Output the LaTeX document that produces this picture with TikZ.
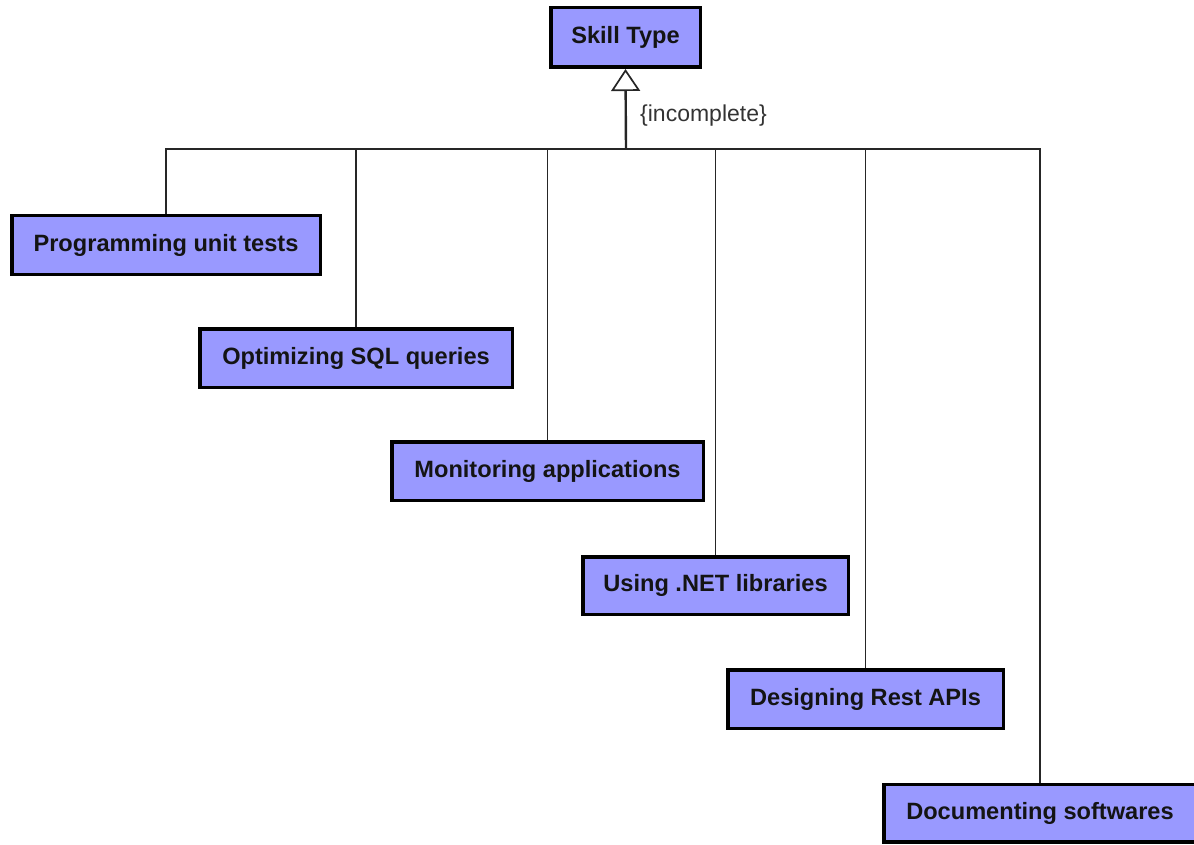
\documentclass[tikz,border=0pt]{standalone}
\usepackage{fontspec}
\setmainfont{Liberation Sans}
\usetikzlibrary{arrows.meta}
\definecolor{classfill}{HTML}{9999FF}
\definecolor{labelgray}{HTML}{333333}
\begin{document}
\begin{tikzpicture}[x=1pt,y=-1pt,
  classbox/.style={draw=black, line width=3.5pt, fill=classfill, inner sep=0pt,
    font=\bfseries\fontsize{23.6}{28}\selectfont, text=black!92},
  link/.style={draw=black!85, line width=1.3pt},
  genline/.style={draw=black!85, line width=2.4pt,
    -{Triangle[open, length=22pt, width=29pt, fill=white, line width=1.7pt]}}]
\useasboundingbox (0,0) rectangle (1194,845);
% supertype
\node[classbox, minimum width=149.5pt, minimum height=59.5pt] (skill) at (625.5,37.5) {Skill Type};
% subtypes
\node[classbox, minimum width=308.5pt, minimum height=58.5pt] (b1) at (166,245) {Programming unit tests};
\node[classbox, minimum width=312.5pt, minimum height=58.5pt] (b2) at (356,358) {Optimizing SQL queries};
\node[classbox, minimum width=311.5pt, minimum height=58.5pt] (b3) at (547.5,471) {Monitoring applications};
\node[classbox, minimum width=265.5pt, minimum height=57.5pt] (b4) at (715.5,585.5) {Using .NET libraries};
\node[classbox, minimum width=275.5pt, minimum height=58.5pt] (b5) at (865.5,699) {Designing Rest APIs};
\node[classbox, minimum width=312.5pt, minimum height=57.5pt] (b6) at (1040,813) {Documenting softwares};
% generalization set
\coordinate (hub) at (626,149);
\draw[link] (hub) -| (b1.north);
\draw[link] (hub) -| (b2.north);
\draw[link] (hub) -| (b3.north);
\draw[link] (hub) -| (b4.north);
\draw[link] (hub) -| (b5.north);
\draw[link] (hub) -| (b6.north);
\draw[genline] (hub) -- (skill.south);
\node[anchor=west, text=labelgray, font=\fontsize{23}{27}\selectfont, inner sep=0pt] (constraint) at (640,115.5) {\{incomplete\}};
\end{tikzpicture}
\end{document}
